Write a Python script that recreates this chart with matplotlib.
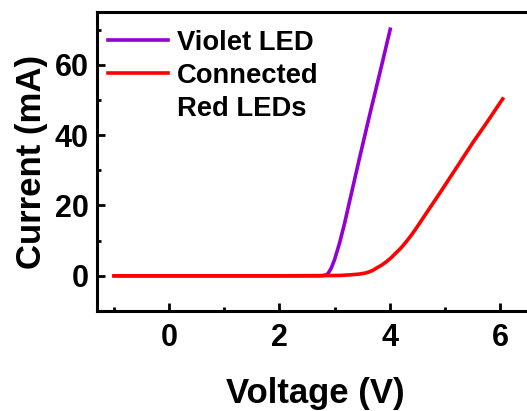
import matplotlib.pyplot as plt
from matplotlib.lines import Line2D
from matplotlib.ticker import MultipleLocator

plt.rcParams['font.family'] = ['Liberation Sans', 'DejaVu Sans']
plt.rcParams['font.weight'] = 'bold'

# I-V curves
violet_v = [-1.0, 2.0, 2.72, 2.79, 2.84, 2.88, 2.94, 3.00, 3.09, 3.18, 3.27,
            3.45, 3.63, 3.82, 4.01]
violet_i = [0.0, 0.0, 0.0, 0.05, 0.25, 0.6, 2.2, 4.6, 9.3, 14.8, 21.0,
            33.3, 45.3, 57.6, 70.1]

red_v = [-1.0, 2.0, 3.09, 3.30, 3.45, 3.56, 3.64, 3.70, 3.76, 3.85, 3.94, 4.03,
         4.12, 4.21, 4.30, 4.39, 4.48, 4.60, 4.90, 5.21, 5.51, 5.78, 6.05]
red_i = [0.0, 0.0, 0.1, 0.3, 0.5, 0.8, 1.2, 1.6, 2.2, 3.0, 4.0, 5.2,
         6.6, 8.0, 9.7, 11.5, 13.5, 16.3, 23.3, 30.7, 37.9, 44.0, 50.3]

fig = plt.figure(figsize=(5.27, 4.11), dpi=100)
ax = fig.add_axes([97 / 527, 1 - 311 / 411, 436 / 527, 299 / 411])

l1, = ax.plot(violet_v, violet_i, color='#9400D3', lw=2.6)
l2, = ax.plot(red_v, red_i, color='#FF0000', lw=2.6)

ax.set_xlim(-1.31, 6.6)
ax.set_ylim(-10, 75)
ax.xaxis.set_major_locator(MultipleLocator(2))
ax.xaxis.set_minor_locator(MultipleLocator(1))
ax.yaxis.set_major_locator(MultipleLocator(20))
ax.yaxis.set_minor_locator(MultipleLocator(10))
ax.tick_params(which='both', direction='in', width=2, labelsize=22)
ax.tick_params(which='major', length=6)
ax.tick_params(which='minor', length=3)
ax.tick_params(axis='x', pad=9)
ax.tick_params(axis='y', pad=6)
for s in ax.spines.values():
    s.set_linewidth(2.2)

ax.set_xlabel('Voltage (V)', fontsize=25, fontweight='bold', labelpad=17)
ax.set_ylabel('Current (mA)', fontsize=25, fontweight='bold', labelpad=5)

# second line of the red label gets an empty handle so the red line sits on "Connected"
blank = Line2D([], [], color='none')
ax.legend([l1, l2, blank], ['Violet LED', 'Connected', 'Red LEDs'],
          loc='upper left', frameon=False, fontsize=19.7, handlelength=2.2,
          handletextpad=0.3, labelspacing=0.25, borderaxespad=0.2,
          bbox_to_anchor=(-0.012, 0.995))

fig.savefig('out.png', dpi=100)
